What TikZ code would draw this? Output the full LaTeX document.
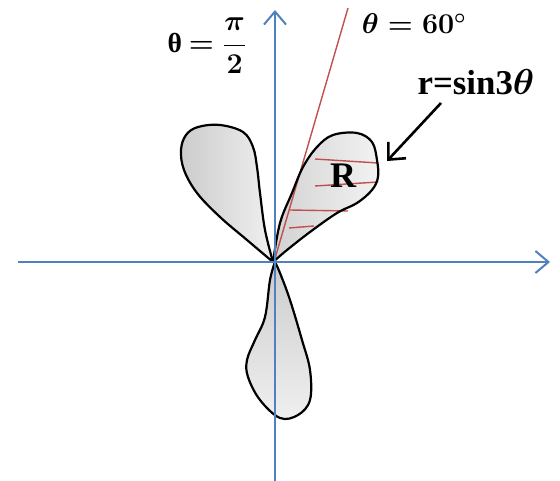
\documentclass[tikz,border=0pt]{standalone}
\usepackage{amsmath, amsfonts, amssymb}
\usepackage{fontspec}
\setmainfont{Liberation Serif}
\usetikzlibrary{arrows.meta}
\definecolor{axisblue}{RGB}{79,129,189}
\definecolor{hatchred}{RGB}{192,80,77}

\begin{document}
\begin{tikzpicture}[x=1pt,y=-1pt]
    \useasboundingbox (0,0) rectangle (560,481);
    % --- Petals of r = sin 3theta ---
    \def\petalL{plot[smooth, tension=0.6] coordinates {(273,262) (247,240) (220,217) (197,193) (184,170) (181,150) (186,135) (198,127) (220,125) (243,132) (253,147) (257,167) (260,193) (265,230) (273,262)} -- cycle}
    \def\petalR{plot[smooth, tension=0.6] coordinates {(273,262) (280,223) (292,193) (303,167) (317,147) (333,135) (357,133) (372,142) (377,160) (378,177) (372,190) (357,203) (337,213) (310,232) (287,250) (273,262)} -- cycle}
    \def\petalD{plot[smooth, tension=0.6] coordinates {(275,262) (270,280) (265,317) (255,340) (247,360) (248,377) (260,400) (280,418) (298,415) (310,400) (310,370) (302,340) (290,300) (280,273) (275,262)} -- cycle}

    \begin{scope}
        \shade[left color=gray!40, right color=gray!12] \petalL;
        \shade[left color=gray!35, right color=gray!10] \petalR;
        \shade[top color=gray!40, bottom color=gray!12] \petalD;
    \end{scope}

    % Hatching of R
    \coordinate (O) at (274,262);
    \coordinate (ray) at (348,8);
    \draw[hatchred, line width=1.4pt] (O) -- (ray);
    \draw[hatchred, line width=1.4pt] (315,159) -- (378,163)
        (315,186) -- (378,182) (290,210) -- (348,211) (289,228) -- (314,226);

    % Draw Outlines
    \draw[line width=2.2pt, line join=round] \petalL;
    \draw[line width=2.2pt, line join=round] \petalR;
    \draw[line width=2.2pt, line join=round] \petalD;

    % Axes
    \coordinate (xl) at (18,262);
    \coordinate (xr) at (550,262);
    \coordinate (yb) at (275,481);
    \coordinate (yt) at (275,10);
    \draw[axisblue, line width=2pt, -{Straight Barb[length=13pt,width=22pt]}] (xl) -- (xr);
    \draw[axisblue, line width=2pt, -{Straight Barb[length=13pt,width=22pt]}] (yb) -- (yt);

    % Labels
    \node[font=\boldmath\bfseries\fontsize{24}{28}\selectfont, scale=1.15] (half) at (207,46) {θ $=\dfrac{\pi}{2}$};
    \node[font=\boldmath\fontsize{24}{28}\selectfont, scale=1.15] (sixty) at (414,24) {$\theta = 60^\circ$};
    \node[font=\boldmath\bfseries\fontsize{24}{28}\selectfont, inner sep=0pt, scale=1.45] (eqn) at (476,82) {r=sin3$\theta$};
    \node[font=\bfseries\fontsize{36}{38}\selectfont, inner sep=0pt] (regR) at (343,176) {R};
    \coordinate (tail) at (441,103);
    \coordinate (head) at (387,161);
    \draw[line width=2.6pt, -{Straight Barb[length=13pt,width=24pt]}] (tail) -- (head);
\end{tikzpicture}
\end{document}
